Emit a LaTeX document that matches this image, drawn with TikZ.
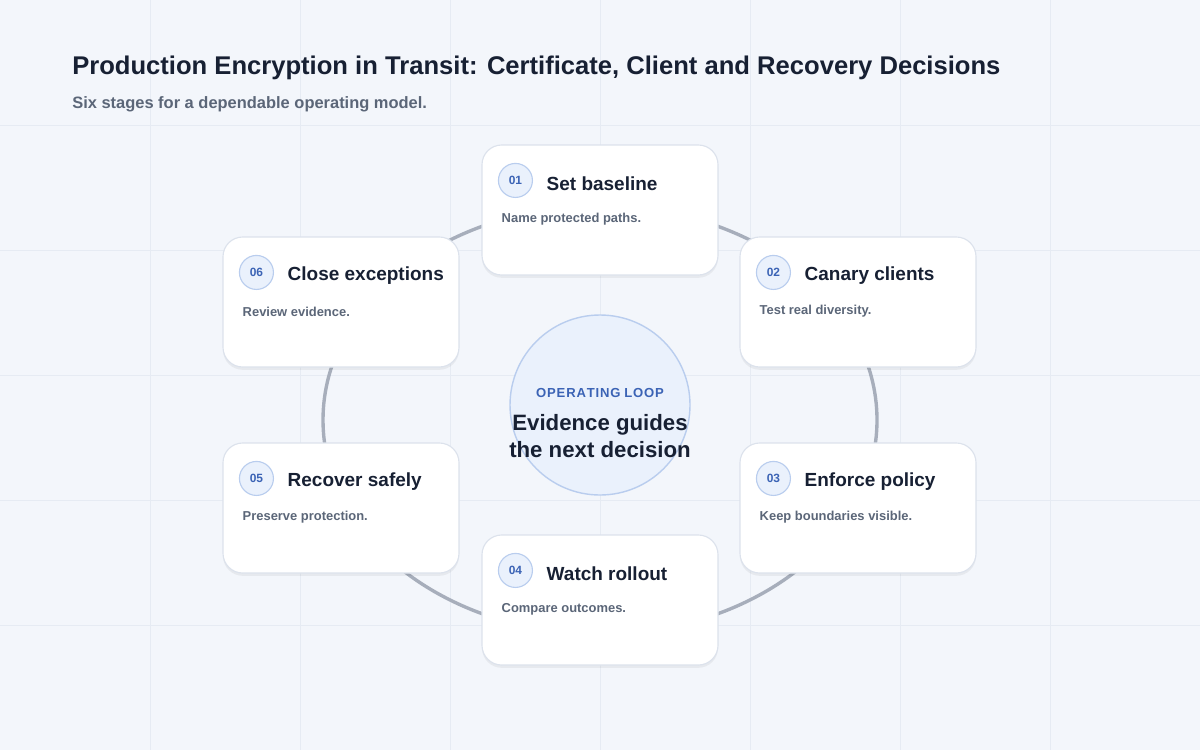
\documentclass[tikz,border=0pt]{standalone}
\usepackage{fontspec}
\setmainfont{Liberation Sans}
\usetikzlibrary{positioning,shadows}
\definecolor{bgcol}{HTML}{F3F6FB}
\definecolor{gridcol}{HTML}{E6EBF3}
\definecolor{inkcol}{HTML}{172033}
\definecolor{mutedcol}{HTML}{5B6678}
\definecolor{ringcol}{HTML}{A7AEBB}
\definecolor{bluecol}{HTML}{3B63B5}
\definecolor{badgefill}{HTML}{EAF1FC}
\definecolor{badgeline}{HTML}{B9CDEE}
\definecolor{cardline}{HTML}{DCE2EC}
\begin{document}
\begin{tikzpicture}[x=0.025cm,y=-0.025cm]

	\tikzstyle{card} = [draw=cardline, fill=white, rounded corners=14, minimum width=236*0.025cm, minimum height=130*0.025cm, line width=0.8pt, drop shadow={shadow xshift=0pt, shadow yshift=-2pt, opacity=0.05, fill=black}]
	\tikzstyle{badge} = [circle, draw=badgeline, fill=badgefill, line width=0.8pt, minimum size=34*0.025cm, inner sep=0pt, font=\fontsize{8.5}{10}\selectfont\bfseries, text=bluecol]
	\tikzstyle{card_title} = [anchor=west, inner sep=0pt, font=\fontsize{13.5}{16}\selectfont\bfseries, text=inkcol]
	\tikzstyle{card_text} = [anchor=west, inner sep=0pt, font=\fontsize{9.2}{11}\selectfont\bfseries, text=mutedcol]

%------------------------------------------------------------
	\fill[bgcol] (0,0) rectangle (1200,750);
	\useasboundingbox (0,0) rectangle (1200,750);
	\foreach \gx in {150,300,...,1050}
		\draw[gridcol, line width=0.5pt] (\gx,0) -- (\gx,750);
	\foreach \gy in {125,250,...,625}
		\draw[gridcol, line width=0.5pt] (0,\gy) -- (1200,\gy);

	\node[anchor=west, inner sep=0pt, font=\fontsize{18.2}{21}\selectfont\bfseries, text=inkcol] (title) at (72,68) {Production Encryption in Transit: Certificate, Client and Recovery Decisions};
	\node[anchor=west, inner sep=0pt, font=\fontsize{11.7}{14}\selectfont\bfseries, text=mutedcol] (subtitle) at (72,104) {Six stages for a dependable operating model.};

%------------------------------------------------------------
	\draw[ringcol, line width=2.4pt] (600,420) ellipse [x radius=277*0.025cm, y radius=214*0.025cm];

	\node[circle, draw=badgeline, fill=badgefill, line width=1pt, minimum size=180*0.025cm] (loop) at (600,405) {};
	\node[font=\fontsize{9.3}{11}\selectfont\bfseries, text=bluecol, inner sep=0pt] (loop_label) at (600,393) {O\kern.6pt P\kern.6pt E\kern.6pt R\kern.6pt A\kern.6pt T\kern.6pt I\kern.6pt N\kern.6pt G\ L\kern.6pt O\kern.6pt O\kern.6pt P};
	\node[font=\fontsize{15.8}{19}\selectfont\bfseries, text=inkcol, align=center, inner sep=0pt] (loop_text) at (600,436) {Evidence guides\\the next decision};

%------------------------------------------------------------
	\foreach \num/\cx/\cy/\ttl/\txt in {
		01/600/210/Set baseline/Name protected paths.,
		02/858/302/Canary clients/Test real diversity.,
		03/858/508/Enforce policy/Keep boundaries visible.,
		04/600/600/Watch rollout/Compare outcomes.,
		05/341/508/Recover safely/Preserve protection.,
		06/341/302/Close exceptions/Review evidence.}
	{
		\node[card] (card\num) at (\cx,\cy) {};
		\node[badge] (badge\num) at ([xshift=34*0.025cm, yshift=-36*0.025cm]card\num.north west) {\num};
		\node[card_title] (title\num) at ([xshift=65*0.025cm, yshift=-39*0.025cm]card\num.north west) {\ttl};
		\node[card_text] (text\num) at ([xshift=20*0.025cm, yshift=-75*0.025cm]card\num.north west) {\txt};
	}

\end{tikzpicture}
\end{document}
